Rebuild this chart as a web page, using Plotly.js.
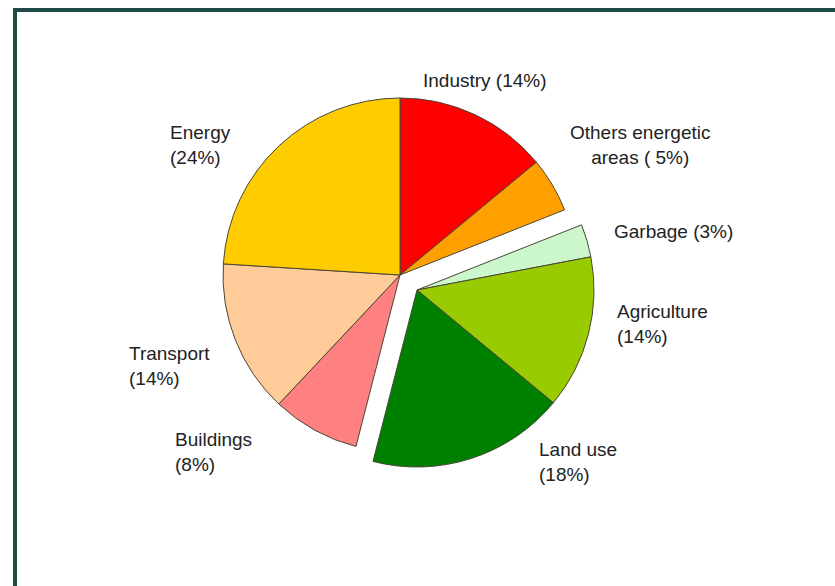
<!DOCTYPE html>
<html>
<head>
<meta charset="utf-8">
<script src="https://cdn.plot.ly/plotly-3.0.1.min.js"></script>
<style>
  html, body { margin: 0; padding: 0; background: #ffffff; }
  #chart { width: 835px; height: 586px; }
</style>
</head>
<body>
<div id="chart"></div>
<script>
// ---- data ----
const categories = ['Industry', 'Others energetic areas', 'Garbage', 'Agriculture', 'Land use', 'Buildings', 'Transport', 'Energy'];
const shares = [14, 5, 3, 14, 18, 8, 14, 24];
const detached = [false, false, true, true, true, false, false, false];
const sliceColors = ['#ff0000', '#ffa000', '#ccf7cc', '#99cc00', '#008000', '#ff8080', '#ffcc99', '#ffcc00'];

// label layout (style only): name text with line break, separator, anchor, position in px
const labelNames = ['Industry', 'Others energetic<br>areas', 'Garbage', 'Agriculture', 'Land use', 'Buildings', 'Transport', 'Energy'];
const labelSep = [' ', ' (', ' ', '<br>', '<br>', '<br>', '<br>', '<br>'];
const labelX = [421, 640, 612, 615, 537, 173, 127, 168];
const labelY = [80, 145, 231, 324, 462, 452, 366, 145];
const labelAnchor = ['left', 'center', 'left', 'left', 'left', 'left', 'left', 'left'];

const W = 835, H = 586;
const R = 177;
const mainCenter = [400, 275];
const pulledCenter = [417, 290];

function domainFor(c) {
  return {
    x: [(c[0] - R) / W, (c[0] + R) / W],
    y: [(H - c[1] - R) / H, (H - c[1] + R) / H]
  };
}

function pieTrace(showDetached, center) {
  const colors = sliceColors.map((c, i) => (detached[i] === showDetached ? c : 'rgba(0,0,0,0)'));
  const lw = detached.map(d => (d === showDetached ? 1 : 0));
  return {
    type: 'pie',
    labels: categories,
    values: shares,
    sort: false,
    direction: 'clockwise',
    rotation: 0,
    textinfo: 'none',
    hoverinfo: 'none',
    showlegend: false,
    domain: domainFor(center),
    marker: { colors: colors, line: { color: '#4a4636', width: lw } }
  };
}

const annotations = categories.map((c, i) => {
  let pct;
  if (labelSep[i] === ' (') pct = ' ( ' + shares[i] + '%)';
  else pct = labelSep[i] + '(' + shares[i] + '%)';
  return {
    text: labelNames[i] + pct,
    xref: 'paper', yref: 'paper',
    x: labelX[i] / W, y: 1 - labelY[i] / H,
    xanchor: labelAnchor[i], yanchor: 'middle',
    align: labelAnchor[i] === 'center' ? 'center' : 'left',
    showarrow: false,
    font: { family: 'Liberation Sans, Arial, sans-serif', size: 19, color: '#222222' }
  };
});

const layout = {
  width: W, height: H,
  margin: { l: 0, r: 0, t: 0, b: 0 },
  paper_bgcolor: '#ffffff',
  plot_bgcolor: '#ffffff',
  annotations: annotations,
  shapes: [{
    type: 'rect', xref: 'paper', yref: 'paper',
    x0: 15 / W, x1: 1.05, y0: -0.05, y1: 1 - 10 / H,
    line: { color: '#1e4a4a', width: 4 },
    fillcolor: 'rgba(0,0,0,0)'
  }]
};

Plotly.newPlot('chart', [pieTrace(false, mainCenter), pieTrace(true, pulledCenter)], layout, { displayModeBar: false, staticPlot: true });
</script>
</body>
</html>
